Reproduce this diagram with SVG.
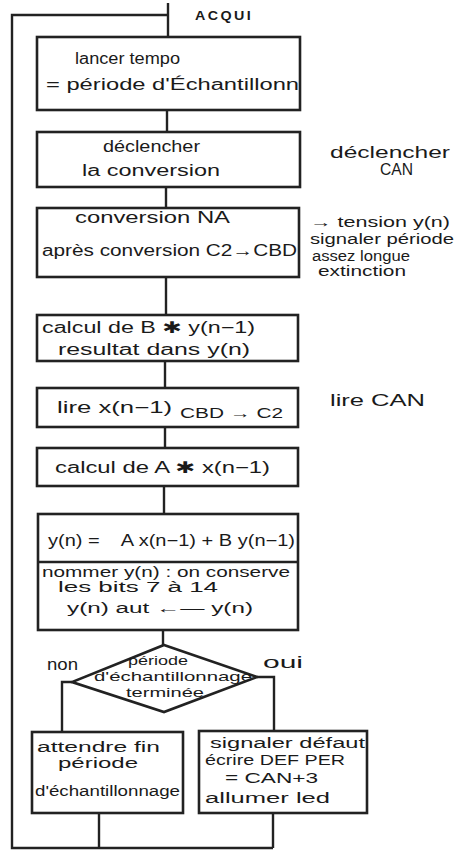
<svg xmlns="http://www.w3.org/2000/svg" width="454" height="850" viewBox="0 0 454 850">
<style>
.bg{fill:#fff}
.box{fill:none;stroke:#222;stroke-width:2.6}
.ln{fill:none;stroke:#222;stroke-width:2.4}
text{font-family:"Liberation Sans","DejaVu Sans",sans-serif;font-size:16px;fill:#1a1a1a}
.s{font-size:14px}
.xs{font-size:13px}
.cap{font-size:12px;font-weight:bold;letter-spacing:2px}
</style>
<rect class="bg" width="454" height="850"/>
<g id="connectors">
<polyline class="ln" points="168,3 168,37"/>
<polyline class="ln" points="168,15 12,15 12,848 273,848"/>
<line class="ln" x1="167" y1="110" x2="167" y2="132"/>
<line class="ln" x1="166" y1="187" x2="166" y2="208"/>
<line class="ln" x1="166" y1="277" x2="166" y2="315"/>
<line class="ln" x1="165" y1="361" x2="165" y2="388"/>
<line class="ln" x1="165" y1="427" x2="165" y2="448"/>
<line class="ln" x1="164" y1="486" x2="164" y2="514"/>
<line class="ln" x1="163" y1="630" x2="163" y2="645"/>
<polyline class="ln" points="72,682 62,682 62,732"/>
<polyline class="ln" points="257,677 274,677 274,731"/>
<line class="ln" x1="99" y1="813" x2="99" y2="848"/>
<line class="ln" x1="273" y1="813" x2="273" y2="848"/>
</g>
<g id="start"><text class="cap" x="195" y="20" textLength="58" lengthAdjust="spacingAndGlyphs">ACQUI</text></g>
<g id="n1">
<rect class="box" x="37" y="37" width="263" height="73"/>
<text x="75" y="64" textLength="105" lengthAdjust="spacingAndGlyphs">lancer tempo</text>
<text x="46" y="90" textLength="253" lengthAdjust="spacingAndGlyphs">= période d'Échantillonn</text>
</g>
<g id="n2">
<rect class="box" x="37" y="132" width="263" height="55"/>
<text x="103" y="152" textLength="97" lengthAdjust="spacingAndGlyphs">déclencher</text>
<text x="82" y="176" textLength="138" lengthAdjust="spacingAndGlyphs">la conversion</text>
</g>
<g id="note2">
<text x="330" y="158" textLength="120" lengthAdjust="spacingAndGlyphs">déclencher</text>
<text x="380" y="175" textLength="33" lengthAdjust="spacingAndGlyphs">CAN</text>
</g>
<g id="n3">
<rect class="box" x="37" y="208" width="262" height="69"/>
<text x="75" y="223" textLength="155" lengthAdjust="spacingAndGlyphs">conversion NA</text>
<text x="42" y="256" textLength="255" lengthAdjust="spacingAndGlyphs">après conversion C2→CBD</text>
</g>
<g id="note3">
<text class="s" x="310" y="227" textLength="140" lengthAdjust="spacingAndGlyphs">→ tension y(n)</text>
<text class="s" x="310" y="244" textLength="144" lengthAdjust="spacingAndGlyphs">signaler période</text>
<text class="s" x="312" y="261" textLength="98" lengthAdjust="spacingAndGlyphs">assez longue</text>
<text class="s" x="318" y="276" textLength="88" lengthAdjust="spacingAndGlyphs">extinction</text>
</g>
<g id="n4">
<rect class="box" x="37" y="315" width="261" height="46"/>
<text x="42" y="333" textLength="213" lengthAdjust="spacingAndGlyphs">calcul de B ✱ y(n−1)</text>
<text x="58" y="355" textLength="192" lengthAdjust="spacingAndGlyphs">resultat dans y(n)</text>
</g>
<g id="n5">
<rect class="box" x="37" y="388" width="261" height="39"/>
<text x="57" y="413" textLength="115" lengthAdjust="spacingAndGlyphs">lire x(n−1)</text>
<text class="s" x="180" y="418" textLength="103" lengthAdjust="spacingAndGlyphs">CBD → C2</text>
</g>
<g id="note5"><text x="330" y="406" textLength="95" lengthAdjust="spacingAndGlyphs">lire CAN</text></g>
<g id="n6">
<rect class="box" x="37" y="448" width="261" height="38"/>
<text x="55" y="473" textLength="215" lengthAdjust="spacingAndGlyphs">calcul de A ✱ x(n−1)</text>
</g>
<g id="n7">
<rect class="box" x="38" y="514" width="260" height="116"/>
<line class="box" x1="38" y1="562" x2="298" y2="562"/>
<text x="48" y="546" textLength="247" lengthAdjust="spacingAndGlyphs" xml:space="preserve">y(n) =    A x(n−1) + B y(n−1)</text>
<text class="s" x="42" y="577" textLength="248" lengthAdjust="spacingAndGlyphs">nommer y(n) : on conserve</text>
<text class="s" x="58" y="592" textLength="160" lengthAdjust="spacingAndGlyphs">les bits 7 à 14</text>
<text class="s" x="67" y="613" textLength="186" lengthAdjust="spacingAndGlyphs">y(n) aut ←— y(n)</text>
</g>
<g id="decision">
<polygon class="box" points="164,645 257,677 164,712 72,682"/>
<text class="xs" x="128" y="665" textLength="60" lengthAdjust="spacingAndGlyphs">période</text>
<text class="xs" x="94" y="681" textLength="158" lengthAdjust="spacingAndGlyphs">d'échantillonnage</text>
<text class="xs" x="126" y="697" textLength="78" lengthAdjust="spacingAndGlyphs">terminée</text>
<text x="47" y="670" textLength="31" lengthAdjust="spacingAndGlyphs">non</text>
<text x="263" y="668" textLength="40" lengthAdjust="spacingAndGlyphs">oui</text>
</g>
<g id="n8">
<rect class="box" x="32" y="732" width="151" height="81"/>
<text class="s" x="37" y="752" textLength="123" lengthAdjust="spacingAndGlyphs">attendre fin</text>
<text class="s" x="58" y="768" textLength="80" lengthAdjust="spacingAndGlyphs">période</text>
<text class="s" x="35" y="796" textLength="145" lengthAdjust="spacingAndGlyphs">d'échantillonnage</text>
</g>
<g id="n9">
<rect class="box" x="199" y="731" width="168" height="82"/>
<text class="s" x="210" y="748" textLength="155" lengthAdjust="spacingAndGlyphs">signaler défaut</text>
<text class="s" x="205" y="765" textLength="140" lengthAdjust="spacingAndGlyphs">écrire DEF PER</text>
<text class="s" x="225" y="783" textLength="93" lengthAdjust="spacingAndGlyphs">= CAN+3</text>
<text class="s" x="205" y="803" textLength="125" lengthAdjust="spacingAndGlyphs">allumer led</text>
</g>
</svg>
